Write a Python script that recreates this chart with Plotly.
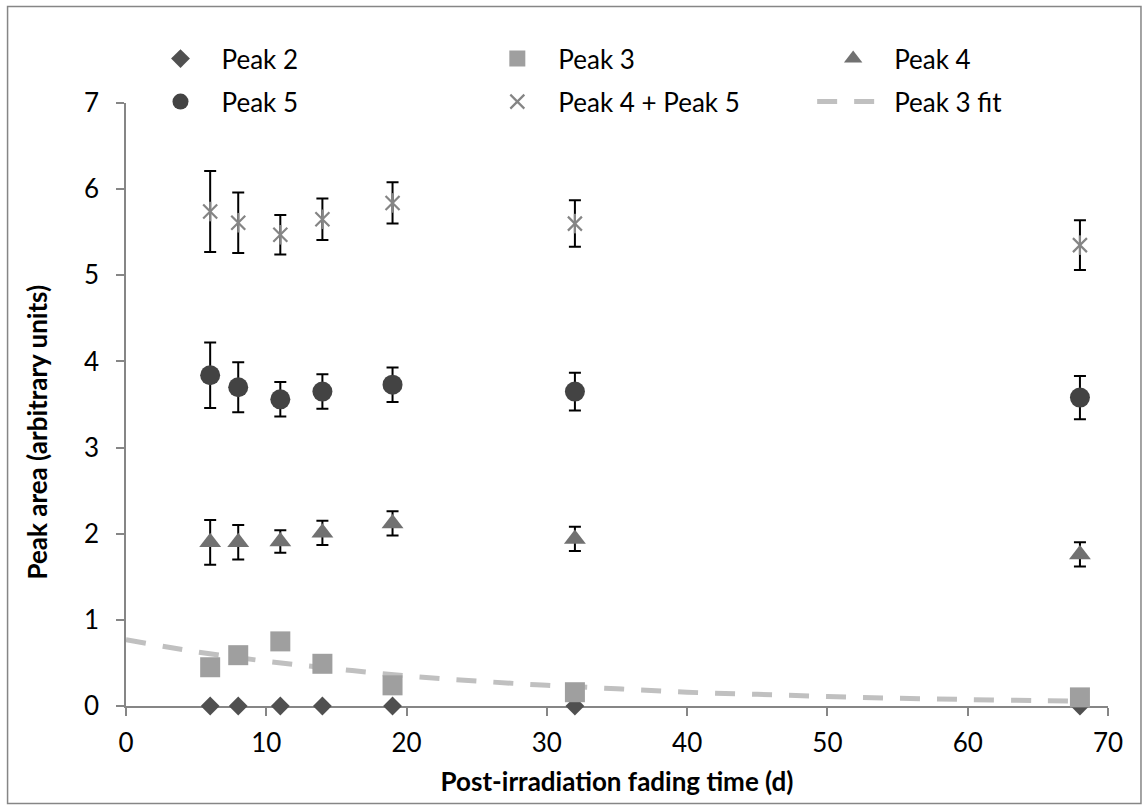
import plotly.graph_objects as go

# Sampling times after irradiation (days)
days = [6, 8, 11, 14, 19, 32, 68]

# Glow-peak areas (arbitrary units) and their standard deviations
peak2 = [0, 0, 0, 0, 0, 0, 0]
peak3 = [0.45, 0.59, 0.75, 0.49, 0.24, 0.16, 0.10]
peak4 = [1.90, 1.90, 1.91, 2.01, 2.12, 1.94, 1.76]
peak4_err = [0.26, 0.20, 0.13, 0.14, 0.14, 0.14, 0.14]
peak5 = [3.84, 3.70, 3.56, 3.65, 3.73, 3.65, 3.58]
peak5_err = [0.38, 0.29, 0.20, 0.20, 0.20, 0.22, 0.25]
peak45 = [5.74, 5.61, 5.47, 5.65, 5.84, 5.60, 5.35]
peak45_err = [0.47, 0.35, 0.23, 0.24, 0.24, 0.27, 0.29]

# Exponential fit through the Peak 3 areas
fit_days = [0, 5, 10, 15, 20, 25, 30, 35, 40, 45, 50, 55, 60, 65, 68]
fit_area = [0.77, 0.63, 0.52, 0.43, 0.35, 0.29, 0.24, 0.20, 0.16, 0.135,
            0.11, 0.09, 0.075, 0.062, 0.056]

x_ticks = [0, 10, 20, 30, 40, 50, 60, 70]
y_ticks = [0, 1, 2, 3, 4, 5, 6, 7]

FONT = "Lato"
AXIS_GREY = "#868686"
STAR_GREY = "#858585"


def err(vals):
    return dict(type="data", array=vals, visible=True, color="black",
                thickness=2, width=6)


fig = go.Figure()

fig.add_trace(go.Scatter(
    x=fit_days, y=fit_area, mode="lines", name="Peak 3 fit",
    line=dict(color="#c0c0c0", width=5, dash="20px,17px", shape="spline"),
    legend="legend6", cliponaxis=False))

fig.add_trace(go.Scatter(
    x=days, y=peak2, mode="markers", name="Peak 2",
    marker=dict(symbol="diamond", size=14.5, color="#505050"),
    legend="legend", cliponaxis=False))

fig.add_trace(go.Scatter(
    x=days, y=peak3, mode="markers", name="Peak 3",
    marker=dict(symbol="square", size=20, color="#9f9f9f"),
    legend="legend2", cliponaxis=False))

fig.add_trace(go.Scatter(
    x=days, y=peak4, mode="markers", name="Peak 4",
    error_y=err(peak4_err),
    marker=dict(symbol="triangle-up", size=19, color="#717171"),
    legend="legend3", cliponaxis=False))

fig.add_trace(go.Scatter(
    x=days, y=peak5, mode="markers", name="Peak 5",
    error_y=err(peak5_err),
    marker=dict(symbol="circle", size=20, color="#434343"),
    legend="legend4", cliponaxis=False))

fig.add_trace(go.Scatter(
    x=days, y=peak45, mode="markers", name="Peak 4 + Peak 5",
    error_y=err(peak45_err),
    marker=dict(symbol="x-thin-open", size=14, color=STAR_GREY,
                line=dict(color=STAR_GREY, width=2.2)),
    legend="legend5", cliponaxis=False))

# vertical stroke completing the star marker
fig.add_trace(go.Scatter(
    x=days, y=peak45, mode="markers", showlegend=False, hoverinfo="skip",
    marker=dict(symbol="line-ns-open", size=14, color=STAR_GREY,
                line=dict(color=STAR_GREY, width=2.2)),
    cliponaxis=False))

# plot area in pixels: x 125.5..1108, y 103.3..705.7
W, H = 1148, 810
L, R, T, B = 125.5, 1108, 103.3, 705.7
pw, ph = R - L, B - T


def px(x):
    return (x - L) / pw


def py(y):
    return (B - y) / ph


ITEM_W = 72
SYMBOL_OFFSET = 41   # symbol centre relative to the legend box edge
col_symbol_x = [180, 517, 853]
row_y = [59, 102]


def legend_box(col, row):
    return dict(orientation="h", xanchor="left", yanchor="middle",
                x=px(col_symbol_x[col] - SYMBOL_OFFSET), y=py(row_y[row]),
                font=dict(family=FONT, size=26, color="black"),
                bgcolor="rgba(0,0,0,0)", itemwidth=ITEM_W,
                itemclick=False, itemdoubleclick=False)


fig.update_layout(
    width=W, height=H,
    margin=dict(l=L, r=W - R, t=T, b=H - B, pad=0),
    paper_bgcolor="white", plot_bgcolor="white",
    font=dict(family=FONT, size=26, color="black"),
    legend=legend_box(0, 0),
    legend2=legend_box(1, 0),
    legend3=legend_box(2, 0),
    legend4=legend_box(0, 1),
    legend5=legend_box(1, 1),
    legend6=legend_box(2, 1),
    xaxis=dict(range=[0, 70], tickvals=x_ticks, ticks="outside", ticklen=8,
               tickwidth=1.5, tickcolor=AXIS_GREY, showline=True,
               linecolor=AXIS_GREY, linewidth=1.5, showgrid=False,
               zeroline=False, layer="below traces", ticklabelstandoff=5,
               tickfont=dict(family=FONT, size=26, color="black"),
               title=dict(text="<b>Post-irradiation fading time (d)</b>",
                          font=dict(family=FONT, size=26, color="black"),
                          standoff=16)),
    yaxis=dict(range=[0, 7], tickvals=y_ticks, ticks="outside", ticklen=8,
               tickwidth=1.5, tickcolor=AXIS_GREY, showline=True,
               linecolor=AXIS_GREY, linewidth=1.5, showgrid=False,
               zeroline=False, layer="below traces", ticklabelstandoff=12,
               tickfont=dict(family=FONT, size=26, color="black")),
    annotations=[dict(text="<b>Peak area (arbitrary units)</b>",
                      xref="paper", yref="paper", x=px(36), y=py(432),
                      xanchor="center", yanchor="middle", textangle=-90,
                      showarrow=False,
                      font=dict(family=FONT, size=26, color="black"))],
    shapes=[dict(type="rect", xref="paper", yref="paper",
                 x0=px(7), x1=px(1141), y0=py(803), y1=py(7),
                 line=dict(color=AXIS_GREY, width=1.5),
                 fillcolor="rgba(0,0,0,0)", layer="below")],
)

fig.write_html("out.html")
